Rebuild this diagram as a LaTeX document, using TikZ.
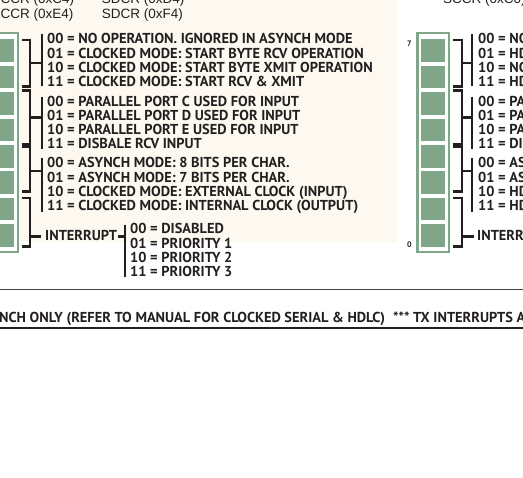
\documentclass[tikz,border=0pt]{standalone}
\usepackage{fontspec}
\setmainfont{PT Sans}
\newfontfamily\regfont{Liberation Sans}
\usetikzlibrary{positioning}
\definecolor{regGreen}{RGB}{128,166,138}
\definecolor{panelCream}{RGB}{253,249,240}
\definecolor{ink}{RGB}{35,31,32}

\begin{document}
\begin{tikzpicture}[x=1pt,y=-1pt,
  txt/.style={anchor=base west,inner sep=0pt,text=ink,font=\bfseries\fontsize{14.4}{15}\selectfont},
  hdr/.style={anchor=base west,inner sep=0pt,text=ink,font=\regfont\fontsize{13.5}{14}\selectfont},
  bitno/.style={inner sep=0pt,text=ink,font=\bfseries\fontsize{8}{8}\selectfont},
  brk/.style={line width=2.4pt,draw=ink}]
  \useasboundingbox (0,0) rectangle (523,478);
  \fill[panelCream] (0,0) rectangle (397,242);
  \foreach \dx in {-431,0}{
    \fill[regGreen] (\dx+416,32) rectangle (\dx+450,253.5);
    \fill[white] (\dx+418.5,34.5) rectangle (\dx+447.5,251);
    \foreach \b in {0,...,7}
      \fill[regGreen] (\dx+421,{39.3+26.43*\b}) rectangle (\dx+445,{61.8+26.43*\b});
  }
  \node[bitno] (msb) at (409.5,43.5) {7};
  \node[bitno] (lsb) at (409.5,244.5) {0};
  \node[hdr] (hdrA) at (0.5,4) {CCR (0xC4)};
  \node[hdr] (hdrB) at (0.5,18.3) {CCR (0xE4)};
  \node[hdr] (hdrC) at (101.7,4) {SDCR (0xD4)};
  \node[hdr] (hdrD) at (101.7,18.3) {SDCR (0xF4)};
  \node[hdr] (hdrE) at (443,4) {SCCR (0xC0)};
  \foreach \x/\c/\t in {22/30/42,453/462/472}{
    \draw[brk] (\x,40) -| (\c,86.7) -- (\x,86.7);
    \draw[brk] (\c,63.3) -- (\t,63.3);
    \draw[brk] (\x,90.7) -| (\c,144.5) -- (\x,144.5);
    \draw[brk] (\c,117.6) -- (\t,117.6);
    \draw[brk] (\x,146.7) -| (\c,191.7) -- (\x,191.7);
    \draw[brk] (\c,171) -- (\t,171);
    \draw[brk] (\x,198.3) -| (\c,246.7) -- (\x,246.7);
    \draw[brk] (\t,34.5) -- (\t,86.5);
    \draw[brk] (\t,96.8) -- (\t,148.8);
    \draw[brk] (\t,158) -- (\t,211.7);
  }
  \node[txt] (irqL) at (45,241) {INTERRUPT};
  \node[txt] (irqR) at (477,241) {INTERRU};
  \draw[brk] (30,236.7) -- ([xshift=-4pt]irqL.west |- 0,236.7);
  \draw[brk] (462,236.7) -- ([xshift=-3pt]irqR.west |- 0,236.7);
  \draw[brk] ([xshift=0.5pt]irqL.east |- 0,236.7) -- (125,236.7);
  \draw[brk] (125,225) -- (125,277);
  \foreach \t [count=\i] in {00 = NO OPERATION. IGNORED IN ASYNCH MODE,
      01 = CLOCKED MODE: START BYTE RCV OPERATION,
      10 = CLOCKED MODE: START BYTE XMIT OPERATION,
      11 = CLOCKED MODE: START RCV \& XMIT}
    \node[txt] (ga\i) at (47,{44+14.1*(\i-1)}) {\t};
  \foreach \t [count=\i] in {00 = PARALLEL PORT C USED FOR INPUT,
      01 = PARALLEL PORT D USED FOR INPUT,
      10 = PARALLEL PORT E USED FOR INPUT,
      11 = DISBALE RCV INPUT}
    \node[txt] (gb\i) at (47,{106.4+14.1*(\i-1)}) {\t};
  \foreach \t [count=\i] in {00 = ASYNCH MODE: 8 BITS PER CHAR.,
      01 = ASYNCH MODE: 7 BITS PER CHAR.,
      10 = CLOCKED MODE: EXTERNAL CLOCK (INPUT),
      11 = CLOCKED MODE: INTERNAL CLOCK (OUTPUT)}
    \node[txt] (gc\i) at (47,{168+14.1*(\i-1)}) {\t};
  \foreach \t [count=\i] in {00 = DISABLED,01 = PRIORITY 1,10 = PRIORITY 2,11 = PRIORITY 3}
    \node[txt] (gd\i) at (130,{234+14.1*(\i-1)}) {\t};
  \foreach \t [count=\i] in {00 = NO,01 = HD,10 = NO,11 = HD}
    \node[txt] (ra\i) at (478,{44+14.1*(\i-1)}) {\t};
  \foreach \t [count=\i] in {00 = PA,01 = PA,10 = PA,11 = DIS}
    \node[txt] (rb\i) at (478,{106.4+14.1*(\i-1)}) {\t};
  \foreach \t [count=\i] in {00 = AS,01 = AS,10 = HD,11 = HD}
    \node[txt] (rc\i) at (478,{168+14.1*(\i-1)}) {\t};
  \draw[line width=0.9pt,draw=ink!85] (0,289.3) -- (523,289.3);
  \node[txt] (noteA) at (-1,322.5) {NCH ONLY (REFER TO MANUAL FOR CLOCKED SERIAL \& HDLC)};
  \node[txt] (noteB) at (393,322.5) {*** TX INTERRUPTS A};
  \draw[line width=2pt,draw=ink] (0,328.3) -- (523,328.3);
\end{tikzpicture}
\end{document}
